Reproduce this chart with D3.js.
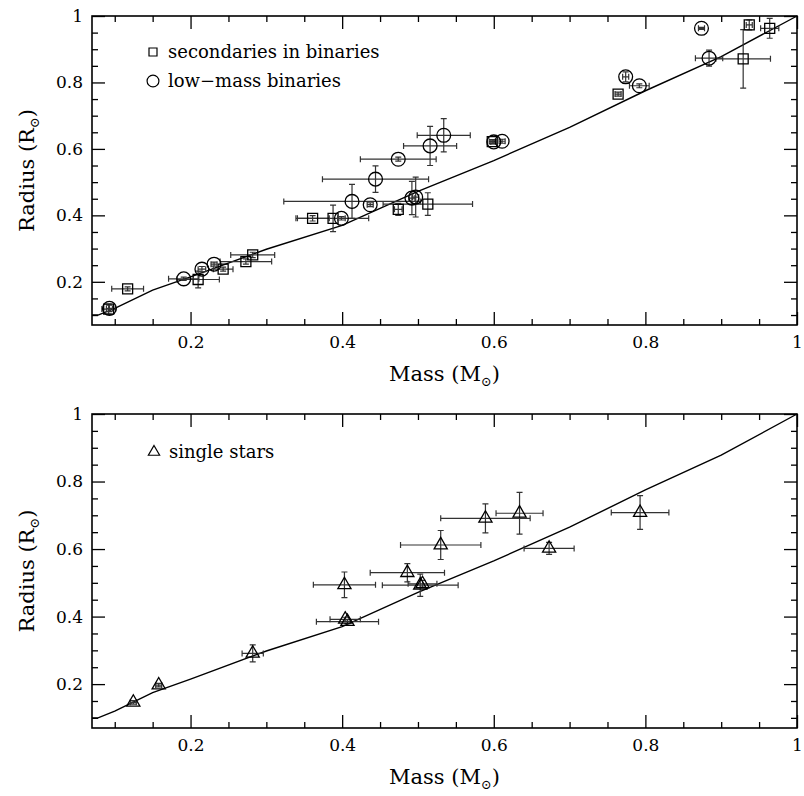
<!DOCTYPE html>
<html>
<head>
<meta charset="utf-8">
<script src="https://cdn.jsdelivr.net/npm/d3@7"></script>
<style>
    body { margin: 0; background: #fff; }
    svg { display: block; }
    .tick text { font-family: "DejaVu Serif", serif; font-size: 17px; fill: #000; }
    text { font-family: "DejaVu Serif", serif; fill: #000; }
</style>
</head>
<body>
<div id="chart"></div>
<script>
// secondaries in binaries (squares)
const sqMass    = [0.092, 0.117, 0.210, 0.243, 0.273, 0.282, 0.361, 0.388, 0.474, 0.513, 0.598, 0.764, 0.929, 0.937, 0.964];
const sqRadius  = [0.118, 0.179, 0.207, 0.238, 0.261, 0.281, 0.391, 0.391, 0.418, 0.434, 0.622, 0.765, 0.871, 0.973, 0.963];
const sqMassErr = [0.009, 0.021, 0.028, 0.013, 0.034, 0.029, 0.022, 0.047, 0.005, 0.059, 0.004, 0.004, 0.036, 0.004, 0.012];
const sqRadErr  = [0.015, 0.006, 0.025, 0.006, 0.008, 0.008, 0.008, 0.040, 0.018, 0.034, 0.006, 0.006, 0.088, 0.015, 0.030];

// low-mass binaries (circles)
const ciMass    = [0.093, 0.191, 0.215, 0.231, 0.399, 0.413, 0.437, 0.444, 0.474, 0.492, 0.497, 0.516, 0.534, 0.600, 0.611, 0.774, 0.792, 0.874, 0.884];
const ciRadius  = [0.120, 0.209, 0.238, 0.253, 0.391, 0.442, 0.432, 0.509, 0.569, 0.452, 0.455, 0.609, 0.641, 0.621, 0.623, 0.817, 0.790, 0.963, 0.873];
const ciMassErr = [0.004, 0.020, 0.005, 0.004, 0.005, 0.090, 0.004, 0.070, 0.050, 0.004, 0.004, 0.035, 0.035, 0.004, 0.004, 0.004, 0.013, 0.004, 0.018];
const ciRadErr  = [0.010, 0.005, 0.008, 0.006, 0.005, 0.051, 0.006, 0.040, 0.006, 0.050, 0.060, 0.059, 0.050, 0.006, 0.006, 0.015, 0.006, 0.003, 0.024];

// single stars (triangles)
const trMass    = [0.1245, 0.158, 0.282, 0.403, 0.404, 0.407, 0.486, 0.503, 0.506, 0.530, 0.589, 0.634, 0.673, 0.793];
const trRadius  = [0.146, 0.197, 0.291, 0.494, 0.392, 0.385, 0.530, 0.493, 0.497, 0.612, 0.691, 0.706, 0.602, 0.708];
const trMassErr = [0.004, 0.004, 0.014, 0.041, 0.020, 0.041, 0.049, 0.050, 0.019, 0.053, 0.059, 0.031, 0.033, 0.038];
const trRadErr  = [0.005, 0.005, 0.025, 0.038, 0.006, 0.006, 0.027, 0.033, 0.010, 0.043, 0.043, 0.062, 0.018, 0.050];

// model mass-radius relation
const modelMass   = [0.07, 0.078, 0.1, 0.15, 0.2, 0.3, 0.4, 0.5, 0.6, 0.7, 0.8, 0.9, 1.0];
const modelRadius = [0.1, 0.1, 0.12, 0.175, 0.215, 0.298, 0.37, 0.472, 0.565, 0.665, 0.775, 0.878, 1.0];

const majorTicks = [0.2, 0.4, 0.6, 0.8, 1];
const tickLabels = ['0.2', '0.4', '0.6', '0.8', '1'];
const minorTicks = [0.1, 0.15, 0.25, 0.3, 0.35, 0.45, 0.5, 0.55, 0.65, 0.7, 0.75, 0.85, 0.9, 0.95];

const w = 804, h = 796;
const left = 92, right = 797;

const svg = d3.select('#chart').append('svg')
    .attr('width', w)
    .attr('height', h);

const xScale = d3.scaleLinear().domain([0.07, 1]).range([left, right]);

function pack(m, r, dm, dr) {
    return m.map((d, i) => ({ m: d, r: r[i], dm: dm[i], dr: dr[i] }));
}

function panel(top, bottom) {
    const yScale = d3.scaleLinear().domain([0.07, 1]).range([bottom, top]);
    const g = svg.append('g');
    const fmt = (d) => tickLabels[majorTicks.indexOf(d)];

    //bottom + left axes with labels, ticks pointing inward
    g.append('g').attr('transform', 'translate(0,' + bottom + ')')
        .call(d3.axisBottom(xScale).tickValues(majorTicks).tickSize(-13).tickPadding(11).tickFormat(fmt));
    g.append('g').attr('transform', 'translate(0,' + bottom + ')')
        .call(d3.axisBottom(xScale).tickValues(minorTicks).tickSize(-6).tickFormat(''));
    g.append('g').attr('transform', 'translate(' + left + ',0)')
        .call(d3.axisLeft(yScale).tickValues(majorTicks).tickSize(-13).tickPadding(9).tickFormat(fmt));
    g.append('g').attr('transform', 'translate(' + left + ',0)')
        .call(d3.axisLeft(yScale).tickValues(minorTicks).tickSize(-6).tickFormat(''));

    //top + right, no labels
    g.append('g').attr('transform', 'translate(0,' + top + ')')
        .call(d3.axisTop(xScale).tickValues(majorTicks).tickSize(-13).tickFormat(''));
    g.append('g').attr('transform', 'translate(0,' + top + ')')
        .call(d3.axisTop(xScale).tickValues(minorTicks).tickSize(-6).tickFormat(''));
    g.append('g').attr('transform', 'translate(' + right + ',0)')
        .call(d3.axisRight(yScale).tickValues(majorTicks).tickSize(-13).tickFormat(''));
    g.append('g').attr('transform', 'translate(' + right + ',0)')
        .call(d3.axisRight(yScale).tickValues(minorTicks).tickSize(-6).tickFormat(''));

    g.selectAll('.domain').remove();
    g.selectAll('.tick line').attr('stroke', '#000').attr('stroke-width', 1.3);

    g.append('rect')
        .attr('x', left).attr('y', top)
        .attr('width', right - left).attr('height', bottom - top)
        .attr('fill', 'none').attr('stroke', '#000').attr('stroke-width', 1.6);

    //axis titles
    const xt = g.append('text')
        .attr('x', (left + right) / 2).attr('y', bottom + 56)
        .attr('text-anchor', 'middle').attr('font-size', 21);
    xt.append('tspan').text('Mass (M');
    xt.append('tspan').attr('font-size', 13).attr('dy', 5).text('\u2299');
    xt.append('tspan').attr('dy', -5).text(')');

    const yt = g.append('text')
        .attr('transform', 'translate(34,' + ((top + bottom) / 2) + ') rotate(-90)')
        .attr('text-anchor', 'middle').attr('font-size', 21);
    yt.append('tspan').text('Radius (R');
    yt.append('tspan').attr('font-size', 13).attr('dy', 5).text('\u2299');
    yt.append('tspan').attr('dy', -5).text(')');

    //model line
    const line = d3.line().x((d) => xScale(d)).y((d, i) => yScale(modelRadius[i]));
    g.append('path')
        .datum(modelMass)
        .attr('d', line)
        .attr('fill', 'none')
        .attr('stroke', '#000')
        .attr('stroke-width', 1.4);

    return { g: g, y: yScale };
}

function drawPoints(p, data, shape, size) {
    const cap = 3;
    const bars = p.g.append('g').attr('stroke', '#333').attr('stroke-width', 1.2).attr('fill', 'none');
    data.forEach((d) => {
        const cx = xScale(d.m), cy = p.y(d.r);
        const x0 = xScale(d.m - d.dm), x1 = xScale(d.m + d.dm);
        const y0 = p.y(d.r - d.dr), y1 = p.y(d.r + d.dr);
        bars.append('path').attr('d',
            'M' + x0 + ',' + cy + 'H' + x1 +
            'M' + x0 + ',' + (cy - cap) + 'V' + (cy + cap) +
            'M' + x1 + ',' + (cy - cap) + 'V' + (cy + cap) +
            'M' + cx + ',' + y0 + 'V' + y1 +
            'M' + (cx - cap) + ',' + y0 + 'H' + (cx + cap) +
            'M' + (cx - cap) + ',' + y1 + 'H' + (cx + cap));
    });
    p.g.append('g').selectAll('path')
        .data(data)
        .enter()
        .append('path')
        .attr('d', d3.symbol().type(shape).size(size))
        .attr('transform', (d) => 'translate(' + xScale(d.m) + ',' + p.y(d.r) + ')')
        .attr('fill', 'none')
        .attr('stroke', '#000')
        .attr('stroke-width', 1.3);
}

function legendItem(g, x, y, shape, size, label) {
    g.append('path')
        .attr('d', d3.symbol().type(shape).size(size))
        .attr('transform', 'translate(' + x + ',' + y + ')')
        .attr('fill', 'none').attr('stroke', '#000').attr('stroke-width', 1.2);
    g.append('text')
        .attr('x', x + 15).attr('y', y + 6)
        .attr('font-size', 18)
        .text(label);
}

const topPanel = panel(16, 325);
drawPoints(topPanel, pack(sqMass, sqRadius, sqMassErr, sqRadErr), d3.symbolSquare, 100);
drawPoints(topPanel, pack(ciMass, ciRadius, ciMassErr, ciRadErr), d3.symbolCircle, 150);
legendItem(topPanel.g, 153, 52, d3.symbolSquare, 64, 'secondaries in binaries');
legendItem(topPanel.g, 153, 81, d3.symbolCircle, 110, 'low\u2212mass binaries');

const botPanel = panel(414, 728);
drawPoints(botPanel, pack(trMass, trRadius, trMassErr, trRadErr), d3.symbolTriangle, 75);
legendItem(botPanel.g, 154, 452, d3.symbolTriangle, 55, 'single stars');
</script>
</body>
</html>
